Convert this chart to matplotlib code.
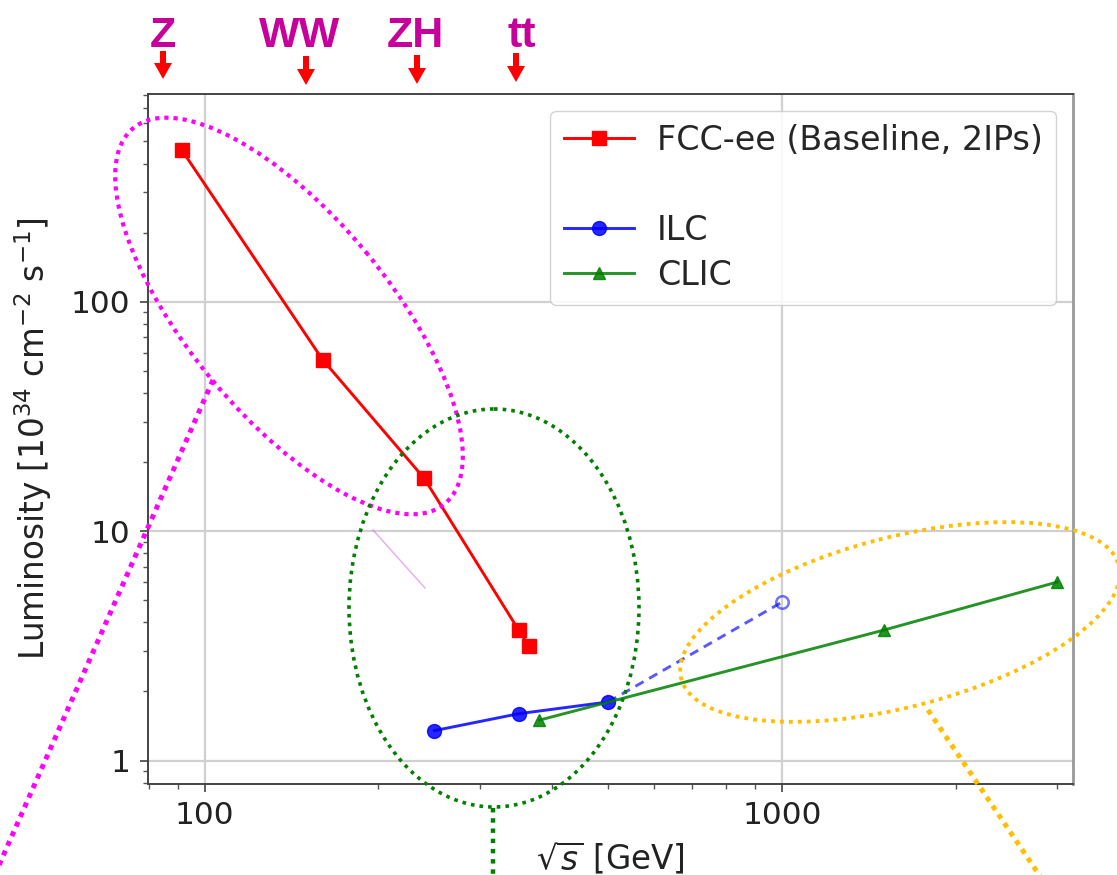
import matplotlib
matplotlib.use("Agg")
import matplotlib.pyplot as plt
import matplotlib.transforms as mtransforms
from matplotlib.patches import Ellipse, FancyArrow
from matplotlib.lines import Line2D
from matplotlib.ticker import FixedLocator, NullFormatter, LogLocator

# ---------------- data ----------------
fcc_energy = [91.2, 160, 240, 350, 365]
fcc_lumi = [460, 56, 17, 3.7, 3.15]

ilc_energy = [250, 350, 500]
ilc_lumi = [1.35, 1.6, 1.8]
ilc_upgrade_energy = [500, 1000]
ilc_upgrade_lumi = [1.8, 4.9]

clic_energy = [380, 1500, 3000]
clic_lumi = [1.5, 3.7, 6.0]

stage_labels = ["Z", "WW", "ZH", "tt"]

x_ticks = [100, 1000]
x_ticklabels = ["100", "1000"]
y_ticks = [1, 10, 100]
y_ticklabels = ["1", "10", "100"]

# ---------------- figure ----------------
W, H = 1117, 875
fig = plt.figure(figsize=(W / 100, H / 100), dpi=100)
ax = fig.add_axes([147.5 / W, 1 - 783.5 / H, (1073 - 147.5) / W, (783.5 - 94) / H])
ax.set_xscale("log")
ax.set_yscale("log")
ax.set_xlim(79.6, 3194)
ax.set_ylim(0.794, 805)

ax.grid(True, which="major", color="#d0d0d0", lw=1.6)
ax.set_axisbelow(True)

ax.plot(fcc_energy, fcc_lumi, color="red", lw=2.1, marker="s", ms=10,
        label="FCC-ee (Baseline, 2IPs)", zorder=3)
ax.plot(ilc_energy, ilc_lumi, color="blue", lw=2.1, marker="o", ms=10,
        label="ILC", zorder=3, alpha=0.85, markerfacecolor="blue", markeredgecolor="blue")
ax.plot(ilc_upgrade_energy, ilc_upgrade_lumi, color="blue", lw=2.1, ls=(0, (3.2, 2.2)),
        alpha=0.65, zorder=3)
ax.plot(ilc_upgrade_energy[-1:], ilc_upgrade_lumi[-1:], ls="none", marker="o", ms=9,
        mfc="none", mec="blue", mew=1.8, alpha=0.55, zorder=3)
ax.plot(clic_energy, clic_lumi, color="green", lw=2.1, marker="^", ms=9,
        label="CLIC", zorder=3, alpha=0.85)

# ticks
ax.xaxis.set_major_locator(FixedLocator(x_ticks))
ax.set_xticklabels(x_ticklabels)
ax.yaxis.set_major_locator(FixedLocator(y_ticks))
ax.set_yticklabels(y_ticklabels)
ax.xaxis.set_minor_locator(LogLocator(base=10, subs=range(2, 10)))
ax.yaxis.set_minor_locator(LogLocator(base=10, subs=range(2, 10)))
ax.xaxis.set_minor_formatter(NullFormatter())
ax.yaxis.set_minor_formatter(NullFormatter())
ax.tick_params(which="major", length=5.5, width=1.1, labelsize=22.5, pad=7,
               colors="#333333", labelcolor="#222222")
ax.tick_params(which="minor", length=3.5, width=1.0, colors="#555555")
for sp in ax.spines.values():
    sp.set_color("#444444")
    sp.set_linewidth(1.4)
ax.spines["right"].set_color("#999999")
ax.spines["right"].set_linewidth(2.0)

ax.set_xlabel(r"$\sqrt{s}$ [GeV]", fontsize=23.5, color="#222222")
ax.set_ylabel(r"Luminosity [$10^{34}$ cm$^{-2}$ s$^{-1}$]", fontsize=23.5, color="#222222")
ax.xaxis.set_label_coords(0.5, (783.5 - 840) / 689.5)
ax.yaxis.set_label_coords((54 - 147.5) / 925.5, 0.5)

# legend with blank row
handles, labels = ax.get_legend_handles_labels()
blank = Line2D([], [], ls="none", marker=None, label=" ")
hl = [handles[0], blank, handles[1], handles[2]]
ll = [labels[0], " ", labels[1], labels[2]]
leg = ax.legend(hl, ll, loc="upper right", fontsize=24, handlelength=2.1,
                handletextpad=0.7, borderpad=0.4, labelspacing=0.36,
                framealpha=0.85, edgecolor="#cccccc", fancybox=True,
                borderaxespad=0.5)
for t in leg.get_texts():
    t.set_color("#262626")

# ---------------- overlay annotations (figure pixel coords, y down) ----------------
pix = mtransforms.Affine2D().scale(1 / 100, -1 / 100).translate(0, H / 100) + fig.dpi_scale_trans

magenta = "#FF00FF"
green = "#007F00"
gold = "#FFBF00"

e1 = Ellipse((289, 316), 488, 200, angle=50.3, fill=False, ec=magenta, lw=3.0,
             ls=(0, (1, 1.2)), transform=pix, clip_on=False, zorder=10)
e2 = Ellipse((494, 608), 290, 398, angle=0, fill=False, ec=green, lw=2.6,
             ls=(0, (1, 1.4)), transform=pix, clip_on=False, zorder=10)
e3 = Ellipse((900, 622), 452, 170, angle=-14.5, fill=False, ec=gold, lw=2.8,
             ls=(0, (1, 1.3)), transform=pix, clip_on=False, zorder=10)
for e in (e1, e2, e3):
    fig.add_artist(e)

fig.add_artist(Line2D([213, -4], [380, 872], color=magenta, lw=3.6, ls=(0, (1, 1.1)),
                      transform=pix, clip_on=False, zorder=10))
fig.add_artist(Line2D([493, 493], [808, 880], color=green, lw=3.2, ls=(0, (1, 1.3)),
                      transform=pix, clip_on=False, zorder=10))
fig.add_artist(Line2D([928, 1046], [710, 885], color=gold, lw=3.6, ls=(0, (1, 1.1)),
                      transform=pix, clip_on=False, zorder=10))
fig.add_artist(Line2D([373, 425], [530, 588], color="#cc55dd", lw=1.0, alpha=0.5,
                      transform=pix, clip_on=False, zorder=10))

# stage labels and arrows
label_x = [163, 300, 415.5, 521.5]
arrow_x = [163, 306, 417, 516]
arrow_y0 = [51, 56, 55, 53]
arrow_y1 = [79, 85, 84, 82]
for lab, lx in zip(stage_labels, label_x):
    fig.text(lx, 47, lab, transform=pix, ha="center", va="baseline", fontsize=31,
             fontweight="bold", family=["Liberation Sans", "DejaVu Sans"], color="#C8009B")
for xa, y0, y1 in zip(arrow_x, arrow_y0, arrow_y1):
    fig.add_artist(FancyArrow(xa, y0, 0, y1 - y0, width=6, head_width=18, head_length=16,
                              length_includes_head=True, color="red", ec="none",
                              transform=pix, clip_on=False, zorder=10))

fig.savefig("out.png", dpi=100)
